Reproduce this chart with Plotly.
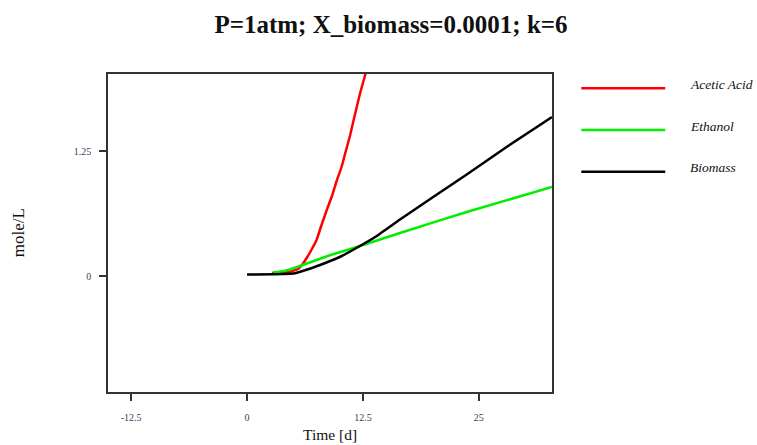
import plotly.graph_objects as go

# Simulated concentrations over time
time_acetic = [2.7, 4.5, 5.5, 6.0, 6.5, 7.0, 7.5, 8.0, 8.6, 9.2, 9.7, 10.2, 10.6, 11.1, 11.5, 12.2, 12.8, 13.2]
acetic_acid = [0.03, 0.04, 0.07, 0.12, 0.19, 0.27, 0.36, 0.50, 0.66, 0.81, 0.96, 1.09, 1.23, 1.40, 1.56, 1.83, 2.03, 2.2]

time_ethanol = [2.8, 4.0, 5.4, 7.2, 9.0, 11.5, 16.5, 23.7, 32.9]
ethanol = [0.035, 0.05, 0.09, 0.15, 0.21, 0.28, 0.43, 0.64, 0.89]

time_biomass = [0, 3, 4.5, 5.3, 6, 7, 8.3, 10, 11.8, 14, 16.5, 20, 23.7, 28, 32.9]
biomass = [0.015, 0.018, 0.022, 0.03, 0.05, 0.08, 0.125, 0.19, 0.28, 0.40, 0.565, 0.785, 1.015, 1.29, 1.59]

series_names = ["Acetic Acid", "Ethanol", "Biomass"]
series_colors = ["#ff0000", "#00ee00", "#000000"]

x_ticks = [-12.5, 0, 12.5, 25]
x_tick_labels = ["-12.5", "0", "12.5", "25"]
y_ticks = [0, 1.25]
y_tick_labels = ["0", "1.25"]

SERIF = "Liberation Serif"
TICK_COLOR = "#3c3c5a"

fig = go.Figure()
for name, color, xs, ys in zip(
    series_names,
    series_colors,
    [time_acetic, time_ethanol, time_biomass],
    [acetic_acid, ethanol, biomass],
):
    fig.add_trace(go.Scatter(x=xs, y=ys, mode="lines", name=name,
                             line=dict(color=color, width=2.5, shape="spline", smoothing=0.3),
                             showlegend=False))

# Hand-drawn legend to the right of the plot area
legend_rows = [0.955, 0.824, 0.693]
for name, color, yy in zip(series_names, series_colors, legend_rows):
    fig.add_shape(type="line", xref="paper", yref="paper",
                  x0=1.066, x1=1.255, y0=yy, y1=yy,
                  line=dict(color=color, width=2.5))
    fig.add_annotation(text=name, xref="paper", yref="paper",
                       x=1.306, y=yy + 0.012, xanchor="left", yanchor="middle",
                       showarrow=False,
                       font=dict(family=SERIF, size=13.5, color="#111", style="italic"))

# Axis titles
fig.add_annotation(text="Time [d]", xref="paper", yref="paper", x=0.5, y=-0.135,
                   xanchor="center", yanchor="middle", showarrow=False,
                   font=dict(family=SERIF, size=15.5, color="#111"))
fig.add_annotation(text="mole/L", xref="paper", yref="paper", x=-0.202, y=0.5,
                   xanchor="center", yanchor="middle", textangle=-90, showarrow=False,
                   font=dict(family=SERIF, size=17, color="#111"))

axis_common = dict(showgrid=False, zeroline=False, showline=True, mirror=True,
                   linecolor="#333", linewidth=1.6, ticks="outside", ticklen=7,
                   tickwidth=1.5, tickcolor="#333",
                   tickfont=dict(family=SERIF, size=10, color=TICK_COLOR))

fig.update_xaxes(range=[-15, 32.9], tickvals=x_ticks, ticktext=x_tick_labels,
                 ticklabelstandoff=8, **axis_common)
fig.update_yaxes(range=[-1.16, 2.02], tickvals=y_ticks, ticktext=y_tick_labels,
                 ticklabelstandoff=6, **axis_common)

fig.update_layout(
    width=757, height=445,
    margin=dict(l=108, r=205, t=74, b=53),
    paper_bgcolor="white", plot_bgcolor="white",
    title=dict(text="P=1atm; X_biomass=0.0001; k=6", x=391 / 757, xanchor="center",
               xref="container", yref="container", y=1 - 24 / 445, yanchor="middle",
               font=dict(family=SERIF, size=25, color="#111", weight="bold")),
)

fig.write_html("out.html")
